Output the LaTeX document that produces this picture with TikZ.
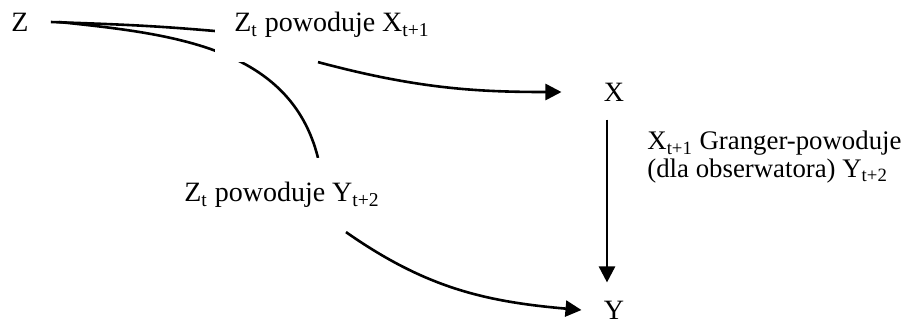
\documentclass[tikz,border=0pt]{standalone}
\usepackage{fontspec}
\setmainfont{Liberation Serif}
\usetikzlibrary{arrows.meta,backgrounds}

\begin{document}
\begin{tikzpicture}[x=0.5pt, y=0.5pt, font=\fontsize{14}{13}\selectfont,
        >={Triangle[length=8pt, width=8pt]},
        var/.style={inner xsep=11pt, inner ysep=9pt},
        cause/.style={inner xsep=9.5pt, inner ysep=12pt, fill=white},
        link/.style={line width=1.3pt}]
        \useasboundingbox (0,0) rectangle (906,-323);
        \node[var] (Z) at (20,-22) {Z};
        \node[cause] (zx) at (332,-25) {Z\textsubscript{t} powoduje X\textsubscript{t+1}};
        \node[cause] (zy) at (282,-195) {Z\textsubscript{t} powoduje Y\textsubscript{t+2}};
        \node[var] (X) at (614,-92) {X};
        \node[var] (Y) at (614,-310) {Y};
        \node[anchor=west, align=left, inner sep=0pt, font=\fontsize{13.4}{13.6}\selectfont] (gr) at (647,-157) {X\textsubscript{t+1} Granger-powoduje\\(dla obserwatora) Y\textsubscript{t+2}};
        % Z -> labels
        \draw[link] (Z.east) to[out=-2, in=175] ([yshift=-3pt]zx.west);
        \begin{scope}[on background layer]
            \draw[link] ([xshift=4pt]Z.east) to[out=-6, in=104] ([xshift=18pt]zy.north);
        \end{scope}
        % labels -> X, Y
        \draw[->, link, shorten >=10pt] ([xshift=-7pt]zx.south) to[out=-15, in=180] (X.west);
        \draw[->, link] ([xshift=32pt]zy.south) to[out=-35, in=175] (Y.west);
        \draw[->, link] ([xshift=-3.5pt]X.south) -- ([xshift=-3.5pt]Y.north);
    \end{tikzpicture}
\end{document}
